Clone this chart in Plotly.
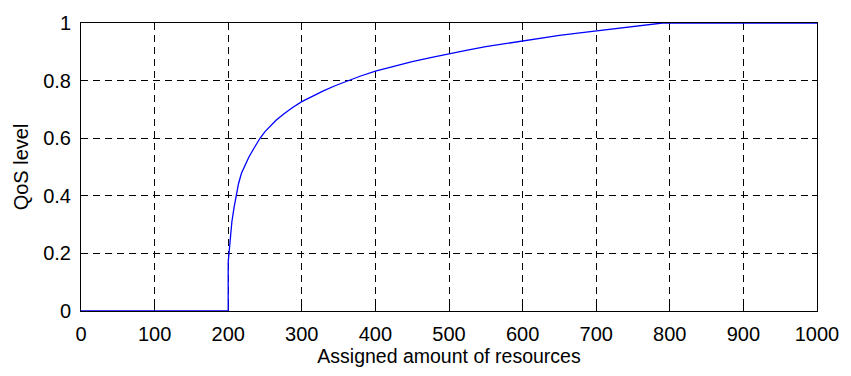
import plotly.graph_objects as go

# Assigned amount of resources vs. resulting QoS level
resources = [0, 200, 200, 201, 203, 205, 208, 210.5, 214, 218, 222, 228, 235, 243,
             250, 258, 265, 275, 287, 300, 315, 330, 346, 362, 380, 400, 425, 450,
             475, 500, 525, 550, 577, 600, 625, 650, 675, 700, 725, 750, 770, 790,
             1000]
qos = [0, 0, 0.17, 0.2, 0.26, 0.31, 0.36, 0.4, 0.442, 0.478, 0.503, 0.534, 0.565,
       0.599, 0.623, 0.645, 0.662, 0.683, 0.706, 0.727, 0.747, 0.765, 0.783, 0.799,
       0.816, 0.833, 0.85, 0.866, 0.88, 0.894, 0.906, 0.918, 0.929, 0.939, 0.948,
       0.957, 0.965, 0.973, 0.981, 0.989, 0.996, 1.0, 1.0]

x_ticks = [0, 100, 200, 300, 400, 500, 600, 700, 800, 900, 1000]
y_ticks = [0, 0.2, 0.4, 0.6, 0.8, 1]
y_tick_text = ["0", "0.2", "0.4", "0.6", "0.8", "1"]

fig = go.Figure()
fig.add_trace(go.Scatter(
    x=resources, y=qos, mode="lines",
    line=dict(color="rgb(0,0,255)", width=1.3),
    showlegend=False, hoverinfo="skip",
))

font = dict(family="Liberation Sans, Arial, sans-serif", size=20, color="black")
title_font = dict(family="Liberation Sans, Arial, sans-serif", size=19.5, color="black")

axis_common = dict(
    showline=True, linecolor="black", linewidth=1, mirror="ticks",
    ticks="inside", ticklen=5, tickcolor="black", tickwidth=1,
    showgrid=True, gridcolor="black", gridwidth=1, griddash="7px,5px",
    zeroline=False, layer="below traces", tickfont=font,
)

fig.update_xaxes(
    range=[0, 1000], tickvals=x_ticks, ticklabelstandoff=5,
    title=dict(text="Assigned amount of resources", font=title_font, standoff=5),
    **axis_common,
)
fig.update_yaxes(
    range=[0, 1], tickvals=y_ticks, ticktext=y_tick_text, ticklabelstandoff=5,
    title=dict(text="QoS level", font=font, standoff=9),
    **axis_common,
)

fig.update_layout(
    width=851, height=376,
    margin=dict(l=81, r=27, t=16, b=65),
    paper_bgcolor="white", plot_bgcolor="white",
    font=font,
)

fig.write_html("out.html")
